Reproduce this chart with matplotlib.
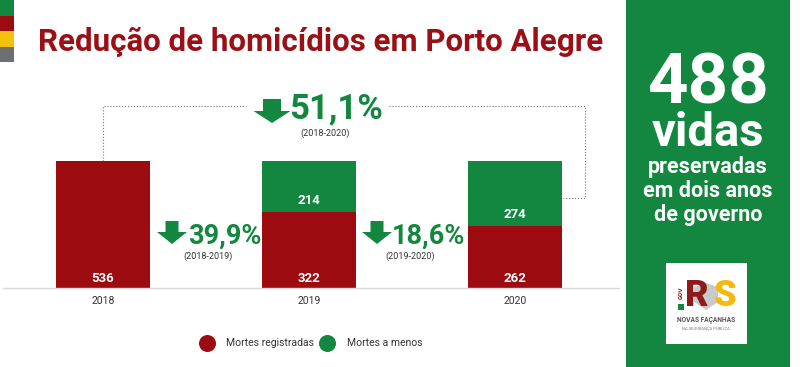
import numpy as np
import matplotlib
matplotlib.use('Agg')
import matplotlib.pyplot as plt
from matplotlib import font_manager
from matplotlib.patches import Rectangle, Polygon, Circle

# dados
anos = ['2018', '2019', '2020']
mortes_registradas = [536, 322, 262]
mortes_a_menos = [0, 214, 274]

vermelho = '#9c0b10'
verde = '#13873f'
amarelo = '#f4c20d'
cinza = '#6d6e70'

nomes = {f.name for f in font_manager.fontManager.ttflist}
fonte = 'Roboto'
fonte_estreita = 'Liberation Sans Narrow' if 'Liberation Sans Narrow' in nomes else 'Roboto'
plt.rcParams['font.family'] = fonte

fig = plt.figure(figsize=(8, 3.67), dpi=100)

# camada de fundo em pixels (0..800, 0..367)
bg = fig.add_axes([0, 0, 1, 1])
bg.set_xlim(0, 800)
bg.set_ylim(367, 0)
bg.axis('off')

# faixas coloridas a esquerda
for i, c in enumerate([verde, vermelho, amarelo, cinza]):
    bg.add_patch(Rectangle((0, i * 15.5), 14, 15.5, color=c, lw=0))

bg.text(38, 42, 'Redução de homicídios em Porto Alegre', color='#9b1016',
        fontsize=22.5, fontweight='bold', va='center', ha='left')

# painel verde
bg.add_patch(Rectangle((626, 0), 164, 367, color=verde, lw=0))
total = sum(mortes_a_menos)
bg.text(708, 84, str(total), color='white', fontsize=51, fontweight='bold', ha='center', va='center')
bg.text(708, 133, 'vidas', color='white', fontsize=34, fontweight='bold', ha='center', va='center')
for y, t in zip([167, 191, 215], ['preservadas', 'em dois anos', 'de governo']):
    bg.text(708, y, t, color='white', fontsize=15.5, fontweight='bold', ha='center', va='center')

# logo simplificado
bg.add_patch(Rectangle((666, 263), 81, 81, color='white', lw=0))
bg.text(697, 296, 'R', color='#8e1b1b', fontsize=26, fontweight='black', ha='center', va='center')
bg.text(725, 296, 'S', color='#f2b90f', fontsize=26, fontweight='black', ha='center', va='center')
bg.add_patch(Polygon([[694, 287], [706, 283], [718, 287], [718, 302], [706, 310], [694, 302]],
                     closed=True, color='#c9c9c9', lw=0))
bg.text(681, 293, 'GOV', color='#8e1b1b', fontsize=4.5, fontweight='bold', rotation=90, ha='center', va='center')
bg.add_patch(Rectangle((678, 304), 6, 6, color=verde, lw=0))
bg.text(706, 320, 'NOVAS FAÇANHAS', color='#555555', fontsize=4.8, fontweight='bold', ha='center', va='center')
bg.text(706, 329, 'NA SEGURANÇA PÚBLICA', color='#777777', fontsize=3, ha='center', va='center')

# grafico de barras
ax = fig.add_axes([3 / 800, (367 - 288) / 367, 616 / 800, 127 / 367])
ax.patch.set_alpha(0)
x = np.arange(len(anos))
b1 = ax.bar(x, mortes_registradas, width=0.456, color=vermelho)
b2 = ax.bar(x, mortes_a_menos, width=0.456, bottom=mortes_registradas, color=verde)
ax.set_xlim(-0.485, 2.505)
ax.set_ylim(0, 536)
for s in ['top', 'right', 'left']:
    ax.spines[s].set_visible(False)
ax.spines['bottom'].set_color('#d9d9d9')
ax.spines['bottom'].set_linewidth(1)
ax.set_yticks([])
ax.set_xticks(x)
ax.set_xticklabels(anos, fontsize=7.5, color='#333333', family=fonte_estreita)
ax.tick_params(axis='x', length=0, pad=6)

for xi, r, g in zip(x, mortes_registradas, mortes_a_menos):
    ax.annotate(str(r), (xi, 0), xytext=(0, 2), textcoords='offset points',
                ha='center', va='bottom', color='white', fontsize=9.5, fontweight='bold')
    if g > 0:
        ax.annotate(str(g), (xi, r), xytext=(0, 3.5), textcoords='offset points',
                    ha='center', va='bottom', color='white', fontsize=9.5, fontweight='bold')

# setas e percentuais
def seta(cx, topo, ws, wh, hs, hh):
    pts = [[cx - ws / 2, topo], [cx + ws / 2, topo], [cx + ws / 2, topo + hs],
           [cx + wh / 2, topo + hs], [cx, topo + hs + hh], [cx - wh / 2, topo + hs],
           [cx - ws / 2, topo + hs]]
    bg.add_patch(Polygon(pts, closed=True, color=verde, lw=0))

def pct(a, b):
    return ('%.1f%%' % ((a - b) / a * 100)).replace('.', ',')

r = mortes_registradas
seta(272, 99, 18, 37, 12, 12)
bg.text(289, 109, pct(r[0], r[2]), color=verde, fontsize=25, fontweight='bold', va='center', ha='left')
bg.text(325, 133, '(2018-2020)', color='#333333', fontsize=6.5, ha='center', va='center', family=fonte_estreita)

seta(172, 221, 13, 30, 11, 12)
bg.text(188, 236, pct(r[0], r[1]), color=verde, fontsize=19.5, fontweight='bold', va='center', ha='left')
bg.text(208, 256, '(2018-2019)', color='#333333', fontsize=6.5, ha='center', va='center', family=fonte_estreita)

seta(377, 221, 13, 30, 11, 12)
bg.text(392, 236, pct(r[1], r[2]), color=verde, fontsize=19.5, fontweight='bold', va='center', ha='left')
bg.text(410, 256, '(2019-2020)', color='#333333', fontsize=6.5, ha='center', va='center', family=fonte_estreita)

# linha pontilhada
bg.plot([103, 103, 246], [161, 106, 106], color='#777777', lw=0.8, ls=':')
bg.plot([389, 585, 585, 563], [106, 106, 198, 198], color='#777777', lw=0.8, ls=':')

# legenda
bg.add_patch(Circle((207.5, 343.5), 8.5, color=vermelho, lw=0))
bg.text(226, 343.5, 'Mortes registradas', fontsize=7.5, color='#333333', va='center', family=fonte_estreita)
bg.add_patch(Circle((327.5, 343.5), 8.5, color=verde, lw=0))
bg.text(347, 343.5, 'Mortes a menos', fontsize=7.5, color='#333333', va='center', family=fonte_estreita)

fig.savefig('out.png', dpi=100)
